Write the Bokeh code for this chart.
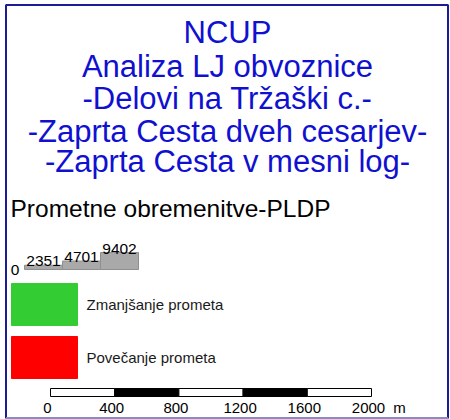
from bokeh.plotting import figure
from bokeh.models import ColumnDataSource
from bokeh.core.properties import value
from bokeh.embed import file_html
from bokeh.resources import INLINE

# ---------------- data ----------------
title_lines = ["NCUP", "Analiza LJ obvoznice", "-Delovi na Tržaški c.-",
               "-Zaprta Cesta dveh cesarjev-", "-Zaprta Cesta v mesni log-"]
subtitle = "Prometne obremenitve-PLDP"
pldp_values = [2351, 4701, 9402]
pldp_zero_label = "0"
legend_labels = ["Zmanjšanje prometa", "Povečanje prometa"]
legend_colors = ["#33cc33", "#ff0000"]
scale_ticks = [0, 400, 800, 1200, 1600, 2000]
scale_colors = ["white", "black", "white", "black", "white"]
scale_unit = "m"

# ---------------- layout helpers (page pixel -> data) ----------------
W, H = 450, 419


def X(px):
    return px


def Y(py):
    return H - py


FONT = value("Liberation Sans")

p = figure(width=W, height=H, x_range=(0, W), y_range=(0, H),
           output_backend="svg", toolbar_location=None, min_border=0)
p.axis.visible = False
p.xgrid.visible = False
p.ygrid.visible = False
p.background_fill_color = "white"
p.border_fill_color = "white"
p.outline_line_color = None

# frame
p.quad(left=[X(5.5)], right=[X(447.5)], top=[Y(4.5)], bottom=[Y(417.5)],
       fill_color=None, line_color="#1c1c96", line_width=2)
p.segment(x0=[X(5.5)], y0=[Y(417.5)], x1=[X(447.5)], y1=[Y(417.5)],
          line_color="#8a8ac8", line_width=2)

# ---------------- title ----------------
title_y = [32, 66, 98, 131, 161]
src_t = ColumnDataSource(dict(x=[X(227)] * len(title_lines),
                              y=[Y(v) for v in title_y], t=title_lines))
p.text("x", "y", text="t", source=src_t, text_font=FONT, text_font_size="31px",
       text_color="#1010d0", text_align="center", text_baseline="middle")

p.text([X(10)], [Y(208)], text=[subtitle], text_font=FONT, text_font_size="24.5px",
       text_color="black", text_align="left", text_baseline="middle")

# ---------------- PLDP step graph ----------------
seg_w = 38
bar_x0 = 24
bar_bottom = 269
max_h = 17
maxv = max(pldp_values)
lefts = [X(bar_x0 + i * seg_w) for i in range(len(pldp_values))]
rights = [l + seg_w for l in lefts]
tops = [Y(bar_bottom) + v / maxv * max_h for v in pldp_values]
src_s = ColumnDataSource(dict(left=lefts, right=rights, top=tops,
                              bottom=[Y(bar_bottom)] * len(pldp_values),
                              lab=[str(v) for v in pldp_values],
                              cx=[(l + r) / 2 for l, r in zip(lefts, rights)],
                              ly=[t + 4 for t in tops]))
p.quad(left="left", right="right", top="top", bottom="bottom", source=src_s,
       fill_color="#a9a9a9", line_color="#8f8f8f", line_width=1)
p.text("cx", "ly", text="lab", source=src_s, text_font=FONT, text_font_size="15.5px",
       text_color="black", text_align="center", text_baseline="alphabetic")
p.text([X(14.5)], [Y(bar_bottom)], text=[pldp_zero_label], text_font=FONT,
       text_font_size="15.5px", text_color="black", text_align="center",
       text_baseline="alphabetic")

# ---------------- colour legend ----------------
box_tops = [283, 336]
box_h = 42
src_l = ColumnDataSource(dict(left=[X(11)] * 2, right=[X(77)] * 2,
                              top=[Y(t) for t in box_tops],
                              bottom=[Y(t + box_h) for t in box_tops],
                              color=legend_colors, lab=legend_labels,
                              lx=[X(86)] * 2,
                              ly=[Y(t + box_h / 2) for t in box_tops]))
p.quad(left="left", right="right", top="top", bottom="bottom", source=src_l,
       fill_color="color", line_color="color")
p.text("lx", "ly", text="lab", source=src_l, text_font=FONT, text_font_size="15px",
       text_color="#1a1a1a", text_align="left", text_baseline="middle")

# ---------------- scale bar ----------------
sb_x0, sb_x1 = 50, 371
sb_top, sb_bot = 388, 396
k = (sb_x1 - sb_x0) / scale_ticks[-1]
src_b = ColumnDataSource(dict(left=[X(sb_x0 + a * k) for a in scale_ticks[:-1]],
                              right=[X(sb_x0 + b * k) for b in scale_ticks[1:]],
                              top=[Y(sb_top)] * len(scale_colors),
                              bottom=[Y(sb_bot)] * len(scale_colors),
                              color=scale_colors))
p.quad(left="left", right="right", top="top", bottom="bottom", source=src_b,
       fill_color="color", line_color="black", line_width=1)
src_bl = ColumnDataSource(dict(x=[X(sb_x0 + t * k - 3) for t in scale_ticks],
                               y=[Y(407)] * len(scale_ticks),
                               t=[str(t) for t in scale_ticks]))
p.text("x", "y", text="t", source=src_bl, text_font=FONT, text_font_size="15px",
       text_color="black", text_align="center", text_baseline="middle")
p.text([X(399)], [Y(407)], text=[scale_unit], text_font=FONT, text_font_size="15px",
       text_color="black", text_align="center", text_baseline="middle")

open("out.html", "w").write(file_html(p, INLINE))
